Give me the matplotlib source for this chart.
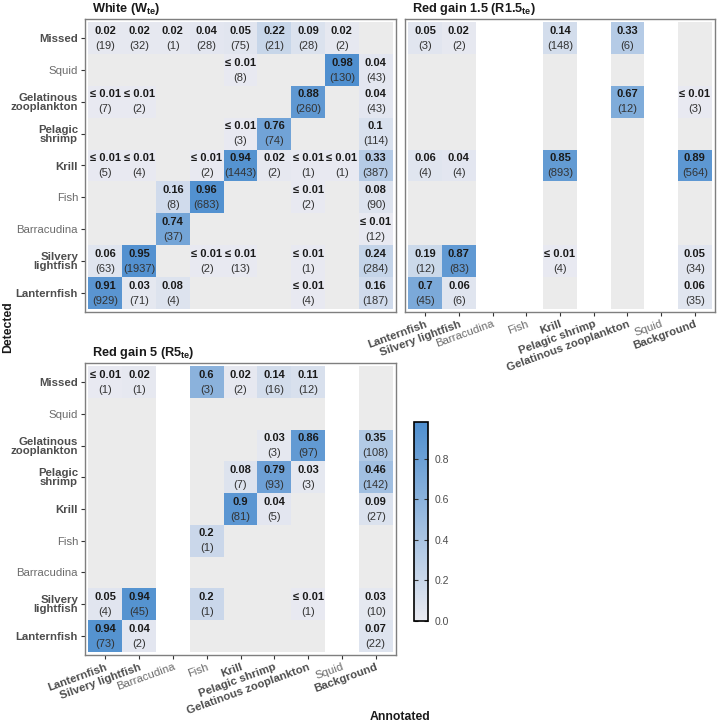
import numpy as np
import matplotlib
matplotlib.use("Agg")
import matplotlib.pyplot as plt
from matplotlib.colors import LinearSegmentedColormap, ListedColormap

plt.rcParams['font.family'] = ['Liberation Sans', 'DejaVu Sans']
plt.rcParams['mathtext.fontset'] = 'custom'
plt.rcParams['mathtext.rm'] = 'Liberation Sans'
plt.rcParams['mathtext.bf'] = 'Liberation Sans:bold'

# categories, bottom to top / left to right
detected = ["Lanternfish", "Silvery lightfish", "Barracudina", "Fish", "Krill",
            "Pelagic shrimp", "Gelatinous zooplankton", "Squid", "Missed"]
annotated = ["Lanternfish", "Silvery lightfish", "Barracudina", "Fish", "Krill",
             "Pelagic shrimp", "Gelatinous zooplankton", "Squid", "Background"]
ylabels = ["Lanternfish", "Silvery\nlightfish", "Barracudina", "Fish", "Krill",
           "Pelagic\nshrimp", "Gelatinous\nzooplankton", "Squid", "Missed"]
plain_classes = ["Barracudina", "Fish", "Squid"]

# (detected, annotated, proportion, count); 0.01 is shown as "<= 0.01"
white_cells = [
    ("Missed", "Lanternfish", 0.02, 19), ("Missed", "Silvery lightfish", 0.02, 32),
    ("Missed", "Barracudina", 0.02, 1), ("Missed", "Fish", 0.04, 28),
    ("Missed", "Krill", 0.05, 75), ("Missed", "Pelagic shrimp", 0.22, 21),
    ("Missed", "Gelatinous zooplankton", 0.09, 28), ("Missed", "Squid", 0.02, 2),
    ("Squid", "Krill", 0.01, 8), ("Squid", "Squid", 0.98, 130), ("Squid", "Background", 0.04, 43),
    ("Gelatinous zooplankton", "Lanternfish", 0.01, 7),
    ("Gelatinous zooplankton", "Silvery lightfish", 0.01, 2),
    ("Gelatinous zooplankton", "Gelatinous zooplankton", 0.88, 260),
    ("Gelatinous zooplankton", "Background", 0.04, 43),
    ("Pelagic shrimp", "Krill", 0.01, 3), ("Pelagic shrimp", "Pelagic shrimp", 0.76, 74),
    ("Pelagic shrimp", "Background", 0.1, 114),
    ("Krill", "Lanternfish", 0.01, 5), ("Krill", "Silvery lightfish", 0.01, 4),
    ("Krill", "Fish", 0.01, 2), ("Krill", "Krill", 0.94, 1443),
    ("Krill", "Pelagic shrimp", 0.02, 2), ("Krill", "Gelatinous zooplankton", 0.01, 1),
    ("Krill", "Squid", 0.01, 1), ("Krill", "Background", 0.33, 387),
    ("Fish", "Barracudina", 0.16, 8), ("Fish", "Fish", 0.96, 683),
    ("Fish", "Gelatinous zooplankton", 0.01, 2), ("Fish", "Background", 0.08, 90),
    ("Barracudina", "Barracudina", 0.74, 37), ("Barracudina", "Background", 0.01, 12),
    ("Silvery lightfish", "Lanternfish", 0.06, 63), ("Silvery lightfish", "Silvery lightfish", 0.95, 1937),
    ("Silvery lightfish", "Fish", 0.01, 2), ("Silvery lightfish", "Krill", 0.01, 13),
    ("Silvery lightfish", "Gelatinous zooplankton", 0.01, 1), ("Silvery lightfish", "Background", 0.24, 284),
    ("Lanternfish", "Lanternfish", 0.91, 929), ("Lanternfish", "Silvery lightfish", 0.03, 71),
    ("Lanternfish", "Barracudina", 0.08, 4), ("Lanternfish", "Gelatinous zooplankton", 0.01, 4),
    ("Lanternfish", "Background", 0.16, 187),
]
white_present = annotated

r15_cells = [
    ("Missed", "Lanternfish", 0.05, 3), ("Missed", "Silvery lightfish", 0.02, 2),
    ("Missed", "Krill", 0.14, 148), ("Missed", "Gelatinous zooplankton", 0.33, 6),
    ("Gelatinous zooplankton", "Gelatinous zooplankton", 0.67, 12),
    ("Gelatinous zooplankton", "Background", 0.01, 3),
    ("Krill", "Lanternfish", 0.06, 4), ("Krill", "Silvery lightfish", 0.04, 4),
    ("Krill", "Krill", 0.85, 893), ("Krill", "Background", 0.89, 564),
    ("Silvery lightfish", "Lanternfish", 0.19, 12), ("Silvery lightfish", "Silvery lightfish", 0.87, 83),
    ("Silvery lightfish", "Krill", 0.01, 4), ("Silvery lightfish", "Background", 0.05, 34),
    ("Lanternfish", "Lanternfish", 0.7, 45), ("Lanternfish", "Silvery lightfish", 0.06, 6),
    ("Lanternfish", "Background", 0.06, 35),
]
r15_present = ["Lanternfish", "Silvery lightfish", "Krill", "Gelatinous zooplankton", "Background"]

r5_cells = [
    ("Missed", "Lanternfish", 0.01, 1), ("Missed", "Silvery lightfish", 0.02, 1),
    ("Missed", "Fish", 0.6, 3), ("Missed", "Krill", 0.02, 2),
    ("Missed", "Pelagic shrimp", 0.14, 16), ("Missed", "Gelatinous zooplankton", 0.11, 12),
    ("Gelatinous zooplankton", "Pelagic shrimp", 0.03, 3),
    ("Gelatinous zooplankton", "Gelatinous zooplankton", 0.86, 97),
    ("Gelatinous zooplankton", "Background", 0.35, 108),
    ("Pelagic shrimp", "Krill", 0.08, 7), ("Pelagic shrimp", "Pelagic shrimp", 0.79, 93),
    ("Pelagic shrimp", "Gelatinous zooplankton", 0.03, 3), ("Pelagic shrimp", "Background", 0.46, 142),
    ("Krill", "Krill", 0.9, 81), ("Krill", "Pelagic shrimp", 0.04, 5), ("Krill", "Background", 0.09, 27),
    ("Fish", "Fish", 0.2, 1),
    ("Silvery lightfish", "Lanternfish", 0.05, 4), ("Silvery lightfish", "Silvery lightfish", 0.94, 45),
    ("Silvery lightfish", "Fish", 0.2, 1), ("Silvery lightfish", "Gelatinous zooplankton", 0.01, 1),
    ("Silvery lightfish", "Background", 0.03, 10),
    ("Lanternfish", "Lanternfish", 0.94, 73), ("Lanternfish", "Silvery lightfish", 0.04, 2),
    ("Lanternfish", "Background", 0.07, 22),
]
r5_present = ["Lanternfish", "Silvery lightfish", "Fish", "Krill", "Pelagic shrimp",
              "Gelatinous zooplankton", "Background"]

cmap = LinearSegmentedColormap.from_list("bl", ["#E9EAF1", "#4F8FCF"])
na_cmap = ListedColormap(["#EBEBEB"])
vmax = 0.98
W, H = 717, 726


def px_axes(x0, y0, x1, y1):
    return fig.add_axes([x0 / W, 1 - y1 / H, (x1 - x0) / W, (y1 - y0) / H])


def draw_panel(ax, cells, present, title, show_x, show_y):
    edges = np.arange(len(annotated) + 1) - 0.5
    bg = np.full((len(detected), len(annotated)), np.nan)
    for c in present:
        bg[:, annotated.index(c)] = 1
    ax.pcolormesh(edges, edges, bg, cmap=na_cmap)
    vals = np.full((len(detected), len(annotated)), np.nan)
    for d, a, p, n in cells:
        vals[detected.index(d), annotated.index(a)] = p
    mesh = ax.pcolormesh(edges, edges, vals, cmap=cmap, vmin=0, vmax=vmax)
    for d, a, p, n in cells:
        x, y = annotated.index(a), detected.index(d)
        lab = "≤ 0.01" if p <= 0.01 else f"{p:g}"
        ax.text(x, y + 0.23, lab, ha='center', va='center', fontsize=8,
                fontweight='bold', color='#1a1a1a')
        ax.text(x, y - 0.24, f"({n})", ha='center', va='center', fontsize=8,
                color='#333333')
    ax.set_xlim(-0.6, 8.6)
    ax.set_ylim(-0.6, 8.6)
    for s in ax.spines.values():
        s.set_color('#7f7f7f')
        s.set_linewidth(1)
    ax.set_xticks(range(len(annotated)))
    ax.set_yticks(range(len(detected)))
    ax.tick_params(length=3, width=0.8, color='#333333', pad=2)
    if show_x:
        ax.set_xticklabels(annotated, rotation=20, ha='right', va='top',
                           rotation_mode='anchor', fontsize=8.2)
        for t, name in zip(ax.get_xticklabels(), annotated):
            if name in plain_classes:
                t.set_color('#6b6b6b')
            else:
                t.set_color('#4d4d4d')
                t.set_fontweight('bold')
    else:
        ax.tick_params(axis='x', bottom=False, labelbottom=False)
    if show_y:
        ax.set_yticklabels(ylabels, fontsize=8.2, linespacing=0.9)
        for t, name in zip(ax.get_yticklabels(), detected):
            if name in plain_classes:
                t.set_color('#6b6b6b')
            else:
                t.set_color('#4d4d4d')
                t.set_fontweight('bold')
    else:
        ax.tick_params(axis='y', left=False, labelleft=False)
    # title baseline about 8 px above the panel
    ax.annotate(title, xy=(0, 1), xycoords='axes fraction', xytext=(7, 7),
                textcoords='offset pixels', ha='left', va='baseline',
                fontsize=9.2, fontweight='bold', color='#1a1a1a')
    return mesh


fig = plt.figure(figsize=(W / 100, H / 100), dpi=100)
ax_w = px_axes(85, 19, 396, 312)
ax_r15 = px_axes(405, 19, 715, 312)
ax_r5 = px_axes(85, 363, 396, 655)

draw_panel(ax_w, white_cells, white_present, r"White (W$_{\mathbf{te}}$)", False, True)
draw_panel(ax_r15, r15_cells, r15_present, r"Red gain 1.5 (R1.5$_{\mathbf{te}}$)", True, False)
mesh = draw_panel(ax_r5, r5_cells, r5_present, r"Red gain 5 (R5$_{\mathbf{te}}$)", True, True)

cax = px_axes(414, 422, 428, 621)
cbar = fig.colorbar(mesh, cax=cax, ticks=[0, 0.2, 0.4, 0.6, 0.8], format="%.1f")
cbar.outline.set_edgecolor('black')
cbar.outline.set_linewidth(1.2)
cax.tick_params(direction='in', length=3, width=0.8, color='#333333',
                left=True, right=True, labelsize=7.5, labelcolor='#4d4d4d', pad=5)

fig.text(8 / W, 1 - 327 / H, "Detected", rotation=90, ha='center', va='center',
         fontsize=8.8, fontweight='bold', color='#1a1a1a')
fig.text(400 / W, 1 - 717 / H, "Annotated", ha='center', va='center',
         fontsize=8.8, fontweight='bold', color='#1a1a1a')

fig.savefig("out.png", dpi=100)
